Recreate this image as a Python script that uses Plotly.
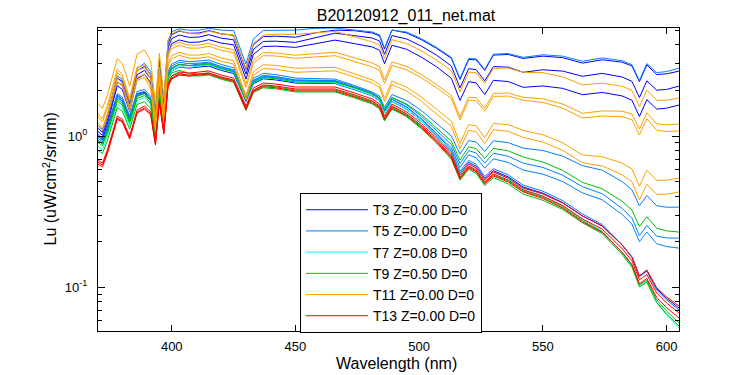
import numpy as np
import plotly.graph_objects as go

# ---------------- data (log10 of Lu) ----------------
wavelength_nm = [370, 372, 374, 376, 378, 380, 383, 386, 389, 391.5,
                 393.4, 395, 396.8, 398.5, 400, 403, 407, 411, 415, 420,
                 425, 430, 433, 437, 442, 450, 458, 466, 474, 481,
                 484, 486, 489, 495, 501, 507, 513, 516.5, 520, 523,
                 526.5, 530, 536, 542, 550, 558, 566, 574, 582, 586,
                 589, 592, 596, 600, 605]

# T3 (blue)
T3_a = [0.053, 0.025, 0.126, 0.261, 0.383, 0.361, 0.215, 0.431, 0.461, 0.405,
        0.139, 0.491, 0.215, 0.609, 0.670, 0.694, 0.679, 0.681, 0.697, 0.676,
        0.665, 0.440, 0.604, 0.657, 0.660, 0.653, 0.682, 0.700, 0.696, 0.681,
        0.662, 0.575, 0.701, 0.681, 0.636, 0.580, 0.514, 0.374, 0.506, 0.504,
        0.434, 0.535, 0.539, 0.513, 0.528, 0.518, 0.482, 0.504, 0.488, 0.463,
        0.359, 0.470, 0.406, 0.411, 0.429]
T3_b = [0.033, 0.004, 0.103, 0.238, 0.358, 0.335, 0.189, 0.405, 0.434, 0.378,
        0.113, 0.464, 0.189, 0.583, 0.644, 0.668, 0.652, 0.654, 0.670, 0.647,
        0.636, 0.409, 0.573, 0.625, 0.627, 0.619, 0.649, 0.680, 0.663, 0.648,
        0.628, 0.540, 0.664, 0.641, 0.593, 0.535, 0.463, 0.318, 0.445, 0.439,
        0.364, 0.459, 0.455, 0.421, 0.438, 0.429, 0.395, 0.414, 0.390, 0.361,
        0.254, 0.365, 0.303, 0.308, 0.330]
T3_c = [0.013, -0.018, 0.080, 0.214, 0.333, 0.308, 0.162, 0.378, 0.408, 0.351,
        0.084, 0.435, 0.158, 0.551, 0.611, 0.635, 0.619, 0.621, 0.637, 0.614,
        0.603, 0.376, 0.540, 0.592, 0.594, 0.586, 0.609, 0.634, 0.610, 0.589,
        0.567, 0.478, 0.600, 0.573, 0.520, 0.458, 0.382, 0.235, 0.359, 0.351,
        0.274, 0.368, 0.360, 0.322, 0.331, 0.315, 0.273, 0.288, 0.265, 0.236,
        0.129, 0.240, 0.178, 0.184, 0.205]
T3_d = [0.000, -0.025, 0.056, 0.169, 0.269, 0.244, 0.118, 0.276, 0.289, 0.237,
        0.028, 0.298, 0.083, 0.385, 0.430, 0.456, 0.449, 0.456, 0.462, 0.434,
        0.413, 0.228, 0.346, 0.378, 0.371, 0.350, 0.348, 0.347, 0.305, 0.265,
        0.231, 0.152, 0.229, 0.176, 0.095, 0.001, -0.107, -0.246, -0.174, -0.200,
        -0.280, -0.229, -0.270, -0.337, -0.378, -0.440, -0.528, -0.595, -0.720, -0.800,
        -0.925, -0.888, -1.009, -1.073, -1.137]

# T5 (light blue)
T5_a = [0.072, 0.043, 0.142, 0.277, 0.397, 0.374, 0.230, 0.448, 0.481, 0.425,
        0.159, 0.511, 0.235, 0.629, 0.690, 0.708, 0.699, 0.700, 0.712, 0.700,
        0.697, 0.475, 0.642, 0.698, 0.700, 0.700, 0.712, 0.714, 0.700, 0.688,
        0.669, 0.582, 0.700, 0.687, 0.642, 0.586, 0.520, 0.380, 0.512, 0.510,
        0.440, 0.541, 0.545, 0.520, 0.537, 0.528, 0.494, 0.516, 0.498, 0.471,
        0.366, 0.479, 0.419, 0.426, 0.449]
T5_b = [0.000, -0.023, 0.061, 0.177, 0.280, 0.257, 0.133, 0.294, 0.308, 0.261,
        0.057, 0.331, 0.121, 0.427, 0.476, 0.500, 0.491, 0.496, 0.502, 0.473,
        0.451, 0.264, 0.382, 0.414, 0.406, 0.383, 0.380, 0.376, 0.333, 0.291,
        0.264, 0.189, 0.274, 0.234, 0.167, 0.087, 0.001, -0.120, -0.030, -0.040,
        -0.102, -0.032, -0.044, -0.080, -0.096, -0.133, -0.196, -0.226, -0.301, -0.356,
        -0.462, -0.393, -0.461, -0.471, -0.470]
T5_c = [-0.014, -0.037, 0.048, 0.163, 0.267, 0.244, 0.120, 0.281, 0.295, 0.248,
        0.044, 0.318, 0.108, 0.414, 0.463, 0.487, 0.478, 0.482, 0.488, 0.459,
        0.437, 0.251, 0.369, 0.400, 0.393, 0.370, 0.368, 0.367, 0.325, 0.285,
        0.253, 0.175, 0.255, 0.205, 0.129, 0.039, -0.056, -0.183, -0.097, -0.112,
        -0.179, -0.114, -0.134, -0.179, -0.208, -0.259, -0.335, -0.382, -0.478, -0.544,
        -0.658, -0.592, -0.662, -0.674, -0.675]
T5_d = [-0.027, -0.050, 0.035, 0.150, 0.254, 0.231, 0.107, 0.267, 0.281, 0.234,
        0.030, 0.304, 0.094, 0.401, 0.450, 0.474, 0.465, 0.469, 0.475, 0.448,
        0.427, 0.241, 0.360, 0.392, 0.385, 0.364, 0.362, 0.360, 0.319, 0.278,
        0.245, 0.166, 0.244, 0.192, 0.113, 0.020, -0.078, -0.208, -0.125, -0.143,
        -0.212, -0.151, -0.175, -0.225, -0.252, -0.301, -0.376, -0.422, -0.518, -0.583,
        -0.698, -0.635, -0.712, -0.731, -0.741]
T5_e = [-0.027, -0.050, 0.035, 0.150, 0.254, 0.231, 0.107, 0.267, 0.281, 0.233,
        0.028, 0.301, 0.090, 0.395, 0.443, 0.471, 0.466, 0.476, 0.482, 0.454,
        0.433, 0.248, 0.366, 0.398, 0.391, 0.370, 0.367, 0.363, 0.320, 0.278,
        0.244, 0.165, 0.242, 0.189, 0.108, 0.014, -0.094, -0.233, -0.161, -0.187,
        -0.267, -0.216, -0.257, -0.324, -0.365, -0.427, -0.515, -0.586, -0.719, -0.803,
        -0.931, -0.895, -1.019, -1.084, -1.150]

# T7 (cyan)
T7_a = [-0.066, -0.090, -0.007, 0.107, 0.209, 0.185, 0.067, 0.233, 0.253, 0.209,
        0.006, 0.281, 0.072, 0.380, 0.430, 0.458, 0.453, 0.463, 0.469, 0.441,
        0.420, 0.235, 0.353, 0.385, 0.378, 0.357, 0.354, 0.350, 0.307, 0.265,
        0.231, 0.152, 0.229, 0.176, 0.095, 0.001, -0.108, -0.249, -0.178, -0.206,
        -0.287, -0.238, -0.281, -0.351, -0.396, -0.461, -0.552, -0.629, -0.770, -0.858,
        -0.989, -0.962, -1.102, -1.183, -1.269]

# T9 (green)
T9_a = [-0.027, -0.052, 0.030, 0.142, 0.243, 0.218, 0.098, 0.262, 0.280, 0.234,
        0.030, 0.304, 0.094, 0.401, 0.450, 0.474, 0.465, 0.469, 0.475, 0.446,
        0.424, 0.238, 0.356, 0.387, 0.380, 0.357, 0.357, 0.357, 0.317, 0.278,
        0.249, 0.173, 0.255, 0.211, 0.141, 0.056, -0.034, -0.159, -0.071, -0.084,
        -0.148, -0.082, -0.098, -0.139, -0.172, -0.227, -0.307, -0.349, -0.431, -0.490,
        -0.599, -0.534, -0.610, -0.627, -0.635]
T9_b = [-0.040, -0.065, 0.017, 0.129, 0.230, 0.205, 0.085, 0.249, 0.267, 0.218,
        0.010, 0.281, 0.068, 0.371, 0.417, 0.434, 0.415, 0.410, 0.416, 0.388,
        0.367, 0.182, 0.300, 0.332, 0.325, 0.304, 0.304, 0.304, 0.264, 0.225,
        0.192, 0.113, 0.191, 0.139, 0.060, -0.033, -0.139, -0.278, -0.205, -0.231,
        -0.310, -0.258, -0.298, -0.364, -0.407, -0.470, -0.560, -0.633, -0.769, -0.854,
        -0.983, -0.952, -1.084, -1.158, -1.236]
T9_c = [-0.093, -0.116, -0.031, 0.084, 0.188, 0.165, 0.045, 0.209, 0.227, 0.181,
        -0.023, 0.251, 0.041, 0.348, 0.397, 0.416, 0.399, 0.397, 0.403, 0.375,
        0.354, 0.169, 0.287, 0.319, 0.312, 0.291, 0.291, 0.291, 0.251, 0.212,
        0.179, 0.100, 0.178, 0.126, 0.047, -0.046, -0.153, -0.292, -0.220, -0.247,
        -0.327, -0.275, -0.317, -0.384, -0.425, -0.486, -0.574, -0.646, -0.782, -0.868,
        -0.997, -0.967, -1.101, -1.177, -1.256]

# T11 (orange)
T11_a = [0.218, 0.181, 0.272, 0.399, 0.511, 0.480, 0.330, 0.542, 0.569, 0.496,
         0.212, 0.547, 0.254, 0.631, 0.677, 0.698, 0.677, 0.674, 0.693, 0.675,
         0.668, 0.446, 0.611, 0.667, 0.673, 0.672, 0.681, 0.692, 0.655, 0.622,
         0.601, 0.513, 0.636, 0.612, 0.562, 0.502, 0.433, 0.291, 0.422, 0.419,
         0.348, 0.447, 0.449, 0.421, 0.419, 0.391, 0.338, 0.349, 0.329, 0.301,
         0.194, 0.303, 0.236, 0.237, 0.251]
T11_b = [0.152, 0.113, 0.203, 0.329, 0.440, 0.407, 0.249, 0.453, 0.471, 0.399,
         0.119, 0.457, 0.167, 0.548, 0.597, 0.620, 0.601, 0.601, 0.613, 0.587,
         0.571, 0.341, 0.502, 0.551, 0.549, 0.534, 0.543, 0.554, 0.516, 0.483,
         0.459, 0.369, 0.490, 0.460, 0.405, 0.340, 0.268, 0.126, 0.257, 0.254,
         0.183, 0.282, 0.284, 0.256, 0.246, 0.211, 0.150, 0.166, 0.164, 0.146,
         0.046, 0.154, 0.080, 0.074, 0.079]
T11_c = [0.132, 0.093, 0.183, 0.309, 0.420, 0.387, 0.229, 0.433, 0.451, 0.379,
         0.099, 0.437, 0.147, 0.528, 0.577, 0.600, 0.581, 0.581, 0.593, 0.567,
         0.551, 0.321, 0.482, 0.531, 0.529, 0.514, 0.521, 0.531, 0.491, 0.457,
         0.434, 0.344, 0.466, 0.437, 0.383, 0.319, 0.248, 0.106, 0.237, 0.234,
         0.163, 0.262, 0.264, 0.236, 0.222, 0.184, 0.119, 0.132, 0.127, 0.108,
         0.007, 0.114, 0.038, 0.030, 0.033]
T11_d = [0.092, 0.053, 0.144, 0.269, 0.381, 0.348, 0.188, 0.390, 0.406, 0.333,
         0.053, 0.391, 0.101, 0.482, 0.531, 0.554, 0.535, 0.535, 0.545, 0.516,
         0.498, 0.265, 0.425, 0.471, 0.467, 0.448, 0.450, 0.454, 0.410, 0.371,
         0.342, 0.248, 0.363, 0.323, 0.257, 0.180, 0.098, -0.049, 0.075, 0.067,
         -0.010, 0.083, 0.075, 0.037, 0.008, -0.045, -0.125, -0.137, -0.179, -0.218,
         -0.332, -0.226, -0.293, -0.292, -0.278]
T11_e = [0.072, 0.033, 0.124, 0.249, 0.361, 0.328, 0.168, 0.370, 0.386, 0.313,
         0.033, 0.371, 0.081, 0.462, 0.511, 0.534, 0.515, 0.515, 0.524, 0.494,
         0.475, 0.241, 0.401, 0.446, 0.441, 0.421, 0.425, 0.431, 0.388, 0.351,
         0.321, 0.226, 0.339, 0.297, 0.228, 0.148, 0.064, -0.085, 0.038, 0.029,
         -0.050, 0.042, 0.031, -0.009, -0.040, -0.095, -0.177, -0.198, -0.256, -0.303,
         -0.423, -0.319, -0.386, -0.384, -0.370]

# T13 (red)
T13_a = [-0.159, -0.179, -0.092, 0.026, 0.132, 0.112, 0.000, 0.172, 0.198, 0.159,
         -0.040, 0.238, 0.033, 0.344, 0.397, 0.423, 0.416, 0.423, 0.430, 0.403,
         0.383, 0.198, 0.317, 0.350, 0.344, 0.324, 0.324, 0.324, 0.284, 0.245,
         0.212, 0.133, 0.211, 0.159, 0.080, -0.013, -0.119, -0.258, -0.185, -0.211,
         -0.290, -0.238, -0.278, -0.344, -0.383, -0.443, -0.529, -0.595, -0.720, -0.800,
         -0.925, -0.886, -1.004, -1.064, -1.124]
T13_b = [-0.172, -0.192, -0.105, 0.013, 0.119, 0.099, -0.013, 0.159, 0.185, 0.146,
         -0.053, 0.225, 0.020, 0.331, 0.384, 0.410, 0.403, 0.410, 0.417, 0.390,
         0.370, 0.185, 0.304, 0.337, 0.331, 0.311, 0.311, 0.311, 0.271, 0.232,
         0.199, 0.120, 0.198, 0.146, 0.067, -0.026, -0.132, -0.271, -0.198, -0.224,
         -0.303, -0.251, -0.291, -0.357, -0.398, -0.460, -0.548, -0.616, -0.744, -0.825,
         -0.951, -0.915, -1.038, -1.104, -1.170]
T13_c = [-0.185, -0.204, -0.116, 0.004, 0.111, 0.092, -0.020, 0.152, 0.178, 0.139,
         -0.060, 0.218, 0.013, 0.324, 0.377, 0.403, 0.396, 0.403, 0.409, 0.382,
         0.361, 0.175, 0.294, 0.326, 0.319, 0.298, 0.298, 0.298, 0.258, 0.219,
         0.186, 0.107, 0.185, 0.133, 0.054, -0.039, -0.145, -0.284, -0.211, -0.237,
         -0.316, -0.264, -0.304, -0.370, -0.413, -0.477, -0.567, -0.638, -0.768, -0.850,
         -0.977, -0.942, -1.067, -1.135, -1.203]

legend_names = ["T3 Z=0.00 D=0", "T5 Z=0.00 D=0", "T7 Z=0.08 D=0",
                "T9 Z=0.50 D=0", "T11 Z=0.00 D=0", "T13 Z=0.00 D=0"]
series_groups = [
    [T3_a, T3_b, T3_c, T3_d],
    [T5_a, T5_b, T5_c, T5_d, T5_e],
    [T7_a],
    [T9_a, T9_b, T9_c],
    [T11_a, T11_b, T11_c, T11_d, T11_e],
    [T13_a, T13_b, T13_c],
]
colors = ["#0000FF", "#0080FF", "#00FFFF", "#00BF00", "#FFA000", "#FF0000"]

FONT = "Liberation Sans, Arial, Helvetica, sans-serif"

fig = go.Figure()
for name, group, col in zip(legend_names, series_groups, colors):
    for i, s in enumerate(group):
        fig.add_trace(go.Scatter(
            x=wavelength_nm, y=10 ** np.array(s), mode="lines",
            line=dict(color=col, width=1), name=name,
            legendgroup=name, showlegend=(i == 0)))

minor_vals = [0.06, 0.07, 0.08, 0.09, 0.2, 0.3, 0.4, 0.5, 0.6, 0.7, 0.8, 0.9, 2, 3, 4, 5]

# the page body adds an 8 px offset, so margins are shifted by 8 px
fig.update_layout(
    width=750, height=375,
    margin=dict(l=90, r=79, t=20, b=52),
    paper_bgcolor="white", plot_bgcolor="white",
    font=dict(family=FONT, color="black", size=13),
    showlegend=True,
    legend=dict(x=0.3477, y=0.455, xanchor="left", yanchor="top",
                bgcolor="white", bordercolor="black", borderwidth=1,
                font=dict(family=FONT, size=14, color="black"),
                itemwidth=62, tracegroupgap=0),
    title=dict(text="B20120912_011_net.mat", x=0.5307, xref="container",
               xanchor="center", y=0.979, yanchor="middle",
               font=dict(family=FONT, size=16, color="black")),
    annotations=[
        dict(text="Wavelength (nm)", xref="paper", yref="paper",
             x=0.513, y=-0.106, xanchor="center", yanchor="middle",
             showarrow=False, font=dict(family=FONT, size=16, color="black")),
        dict(text="Lu (uW/cm<sup>2</sup>/sr/nm)", xref="paper", yref="paper",
             x=-0.0843, y=0.5, xanchor="center", yanchor="middle", textangle=-90,
             showarrow=False, font=dict(family=FONT, size=16, color="black")),
    ],
)
fig.update_xaxes(
    range=[370.2, 605], tickvals=[400, 450, 500, 550, 600],
    ticks="inside", ticklen=6, tickcolor="black", mirror="ticks",
    showline=True, linecolor="black", linewidth=1, showgrid=False, zeroline=False,
    ticklabelstandoff=3,
    tickfont=dict(family=FONT, size=13, color="black"))
fig.update_yaxes(
    type="log", range=[-1.289, 0.714], tickvals=[0.1, 1],
    ticktext=["10<sup>-1</sup>", "10<sup>0</sup>"],
    ticks="inside", ticklen=7, tickcolor="black", mirror="ticks",
    showline=True, linecolor="black", linewidth=1, showgrid=False, zeroline=False,
    ticklabelstandoff=7,
    tickfont=dict(family=FONT, size=13, color="black"),
    minor=dict(tickvals=minor_vals, ticks="inside", ticklen=4, tickcolor="black",
               showgrid=False))

fig.write_html("out.html")
